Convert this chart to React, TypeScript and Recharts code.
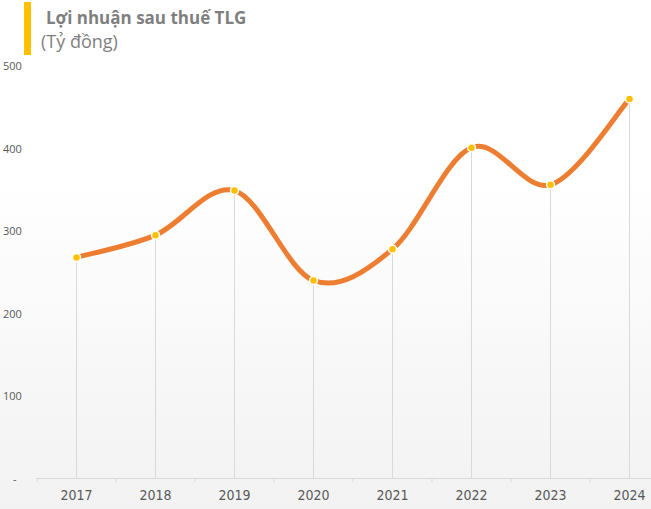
import { LineChart, Line, XAxis, YAxis, ReferenceLine } from 'recharts';

const years = ['2017', '2018', '2019', '2020', '2021', '2022', '2023', '2024'];
const profit = [268, 295, 349, 240, 278, 401, 356, 460];
const yTicks = [0, 100, 200, 300, 400, 500];

const rows = years.map((year, i) => ({ year, profit: profit[i] }));

const CHART_W = 680;
const CHART_H = 509;
const PLOT_LEFT = 37;
const PLOT_RIGHT = 11;
const BAND = (CHART_W - PLOT_LEFT - PLOT_RIGHT) / years.length;

// Excel-style smoothing (uniform Catmull-Rom as cubic Beziers).
function smoothCurve(context: any) {
  let pts: [number, number][] = [];
  return {
    areaStart() {},
    areaEnd() {},
    lineStart() {
      pts = [];
    },
    point(x: number, y: number) {
      pts.push([+x, +y]);
    },
    lineEnd() {
      if (!pts.length) return;
      context.moveTo(pts[0][0], pts[0][1]);
      for (let i = 0; i < pts.length - 1; i++) {
        const p0 = pts[i - 1] || pts[i];
        const p1 = pts[i];
        const p2 = pts[i + 1];
        const p3 = pts[i + 2] || p2;
        context.bezierCurveTo(
          p1[0] + (p2[0] - p0[0]) / 6,
          p1[1] + (p2[1] - p0[1]) / 6,
          p2[0] - (p3[0] - p1[0]) / 6,
          p2[1] - (p3[1] - p1[1]) / 6,
          p2[0],
          p2[1]
        );
      }
    },
  };
}

function YTick({ y, payload }: any) {
  const zero = payload.value === 0;
  return (
    <text
      x={zero ? 13 : 3}
      y={y}
      dy={4}
      textAnchor="start"
      fontSize={11}
      fontFamily="'Open Sans', sans-serif"
      fill="#595959"
    >
      {zero ? '-' : payload.value}
    </text>
  );
}

function XTick({ x, y, payload }: any) {
  const left = x - BAND / 2;
  return (
    <g>
      <line x1={left} x2={left} y1={y - 8} y2={y - 4} stroke="#d9d9d9" />
      <text
        x={x}
        y={y}
        dy={13}
        textAnchor="middle"
        fontSize={14}
        fontFamily="'Liberation Sans Narrow', 'DejaVu Sans Condensed', sans-serif"
        fill="#595959"
      >
        {payload.value}
      </text>
    </g>
  );
}

function Dot({ cx, cy }: any) {
  if (cx == null || cy == null) return null;
  return <circle cx={cx} cy={cy} r={4} fill="#FFC000" stroke="#ffffff" strokeWidth={1.5} />;
}

export default function App() {
  return (
    <div
      style={{
        position: 'absolute',
        left: 0,
        top: 0,
        width: 651,
        height: 509,
        overflow: 'hidden',
        background: 'linear-gradient(#ffffff 0%, #ffffff 35%, #f2f2f2 100%)',
      }}
    >
      <div
        style={{
          position: 'absolute',
          left: 24,
          top: 2,
          width: 7,
          height: 53,
          background: '#FFC000',
        }}
      />
      <div
        style={{
          position: 'absolute',
          left: 46,
          top: 6,
          fontFamily: "'Open Sans', sans-serif",
          fontWeight: 700,
          fontSize: 17,
          color: '#7f7f7f',
          whiteSpace: 'nowrap',
        }}
      >
        Lợi nhuận sau thuế TLG
      </div>
      <div
        style={{
          position: 'absolute',
          left: 41,
          top: 29,
          fontFamily: "'Open Sans', sans-serif",
          fontSize: 18,
          color: '#7f7f7f',
          whiteSpace: 'nowrap',
        }}
      >
        (Tỷ đồng)
      </div>
      <div style={{ position: 'absolute', left: 0, top: 0 }}>
        <LineChart
          width={CHART_W}
          height={CHART_H}
          data={rows}
          margin={{ top: 66, right: PLOT_RIGHT, bottom: 0, left: 0 }}
        >
          <XAxis
            dataKey="year"
            padding={{ left: BAND / 2, right: BAND / 2 }}
            axisLine={{ stroke: '#d9d9d9' }}
            tickLine={false}
            tick={<XTick />}
            interval={0}
            height={30.5}
          />
          <YAxis
            domain={[0, 500]}
            ticks={yTicks}
            width={PLOT_LEFT}
            axisLine={false}
            tickLine={false}
            tick={<YTick />}
            interval={0}
          />
          {rows.map(r => (
            <ReferenceLine
              key={r.year}
              segment={[
                { x: r.year, y: 0 },
                { x: r.year, y: r.profit },
              ]}
              stroke="#d9d9d9"
              strokeWidth={1}
            />
          ))}
          <Line
            dataKey="profit"
            type={smoothCurve as any}
            stroke="#ED7D31"
            strokeWidth={5}
            dot={<Dot />}
            activeDot={false}
            isAnimationActive={false}
          />
        </LineChart>
      </div>
    </div>
  );
}
